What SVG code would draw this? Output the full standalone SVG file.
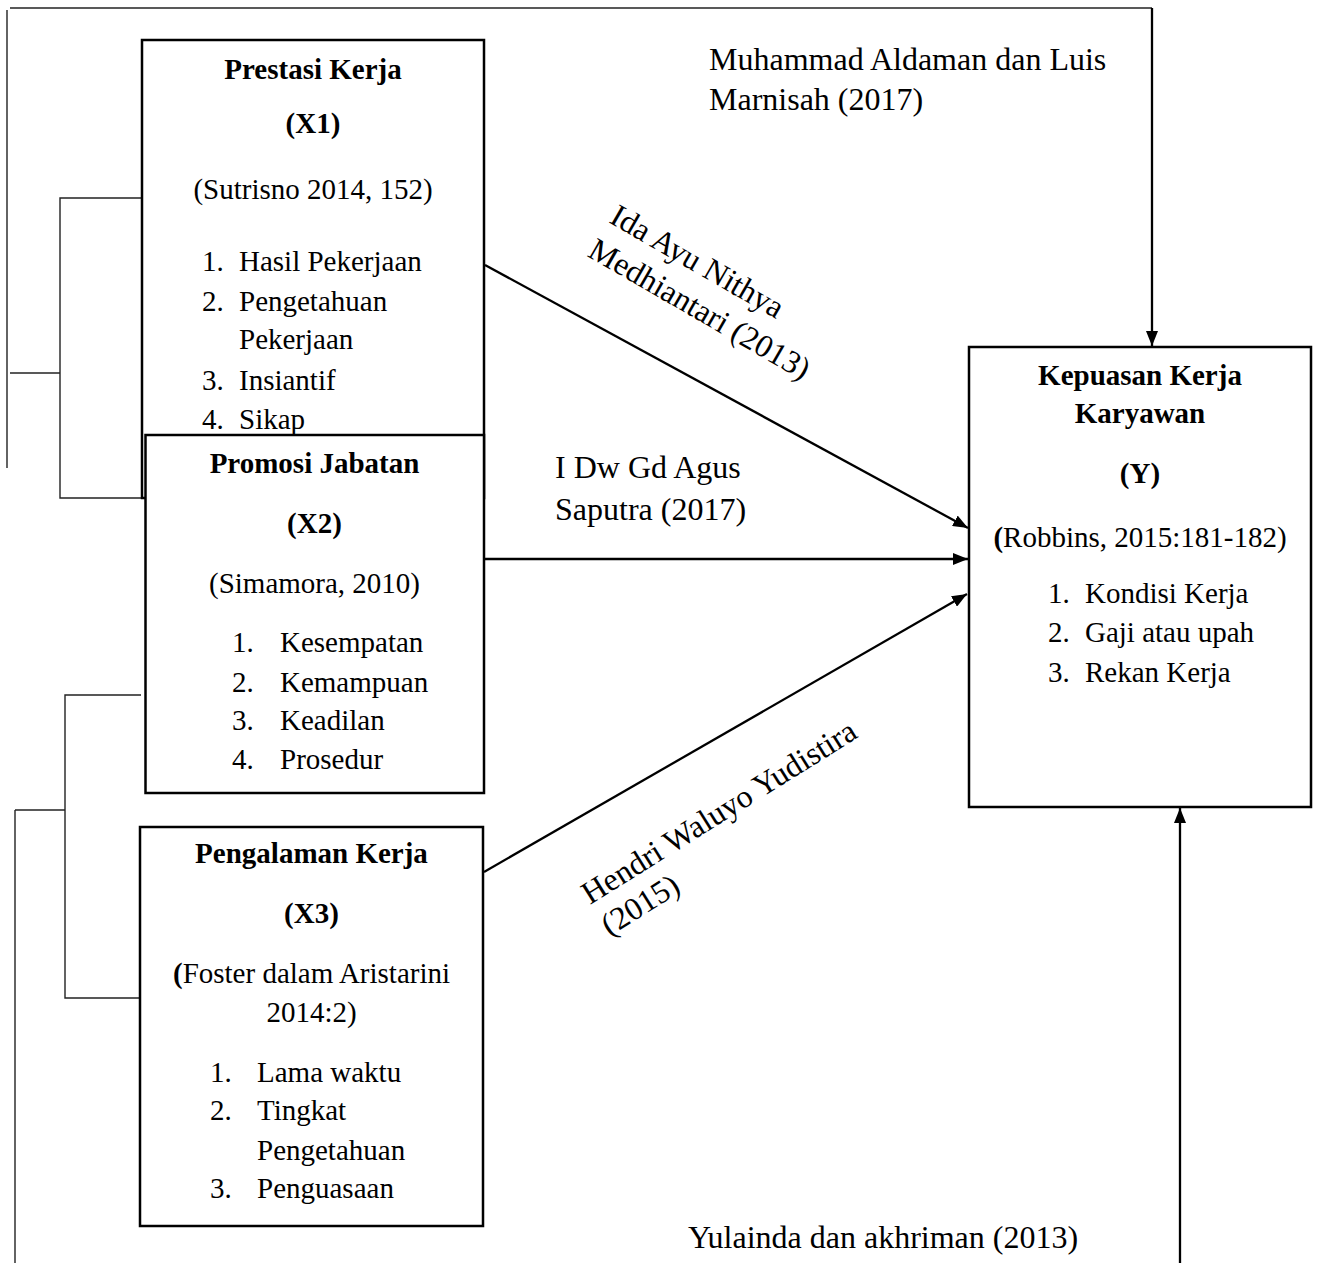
<svg xmlns="http://www.w3.org/2000/svg" width="1319" height="1263" viewBox="0 0 1319 1263">
<style>
text{font-family:"Liberation Serif","Times New Roman",serif;fill:#000}
.b{font-size:29px;font-weight:bold}
.t{font-size:29px}
.m{text-anchor:middle}
.l{font-size:32px}
.box{fill:#fff;stroke:#000;stroke-width:2.5}
.thin{fill:none;stroke:#222;stroke-width:1.4}
.arr{fill:none;stroke:#000;stroke-width:2.3;marker-end:url(#ah)}
</style>
<defs>
<marker id="ah" markerUnits="userSpaceOnUse" markerWidth="16" markerHeight="12" refX="15" refY="6" orient="auto">
<path d="M0,0 L15,6 L0,12 z" fill="#000"/>
</marker>
</defs>
<rect width="1319" height="1263" fill="#fff"/>
<g id="connectors">
<line class="thin" x1="10" y1="8" x2="1152" y2="8"/>
<line class="thin" x1="7" y1="10" x2="7" y2="468"/>
<line class="thin" x1="10" y1="373" x2="60" y2="373"/>
<polyline class="thin" points="142,198 60,198 60,498 142,498"/>
<polyline class="thin" points="141,695 65,695 65,998 139,998"/>
<line class="thin" x1="15" y1="810" x2="65" y2="810"/>
<line class="thin" x1="15" y1="810" x2="15" y2="1263"/>
<line class="arr" x1="485" y1="265" x2="968" y2="528"/>
<line class="arr" x1="485" y1="559" x2="968" y2="559"/>
<line class="arr" x1="484" y1="872" x2="967" y2="594"/>
<line class="arr" x1="1152" y1="8" x2="1152" y2="346"/>
<line class="arr" x1="1180" y1="1263" x2="1180" y2="808"/>
</g>
<g id="node-x1">
<rect class="box" x="142" y="40" width="342" height="458"/>
<text class="b m" x="313" y="79">Prestasi Kerja</text>
<text class="b m" x="313" y="133">(X1)</text>
<text class="t m" x="313" y="199">(Sutrisno 2014, 152)</text>
<text class="t" x="202" y="271">1.</text><text class="t" x="239" y="271">Hasil Pekerjaan</text>
<text class="t" x="202" y="311">2.</text><text class="t" x="239" y="311">Pengetahuan</text>
<text class="t" x="239" y="349">Pekerjaan</text>
<text class="t" x="202" y="390">3.</text><text class="t" x="239" y="390">Insiantif</text>
<text class="t" x="202" y="429">4.</text><text class="t" x="239" y="429">Sikap</text>
</g>
<g id="node-x2">
<rect class="box" x="145.5" y="435" width="338.5" height="358"/>
<text class="b m" x="314.5" y="473">Promosi Jabatan</text>
<text class="b m" x="314.5" y="533">(X2)</text>
<text class="t m" x="314.5" y="593">(Simamora, 2010)</text>
<text class="t" x="232" y="652">1.</text><text class="t" x="280" y="652">Kesempatan</text>
<text class="t" x="232" y="692">2.</text><text class="t" x="280" y="692">Kemampuan</text>
<text class="t" x="232" y="730">3.</text><text class="t" x="280" y="730">Keadilan</text>
<text class="t" x="232" y="769">4.</text><text class="t" x="280" y="769">Prosedur</text>
</g>
<g id="node-x3">
<rect class="box" x="140" y="827" width="343" height="399"/>
<text class="b m" x="311.5" y="863">Pengalaman Kerja</text>
<text class="b m" x="311.5" y="923">(X3)</text>
<text class="t m" x="311.5" y="983"><tspan font-weight="bold">(</tspan>Foster dalam Aristarini</text>
<text class="t m" x="311.5" y="1022">2014:2)</text>
<text class="t" x="210" y="1082">1.</text><text class="t" x="257" y="1082">Lama waktu</text>
<text class="t" x="210" y="1120">2.</text><text class="t" x="257" y="1120">Tingkat</text>
<text class="t" x="257" y="1160">Pengetahuan</text>
<text class="t" x="210" y="1198">3.</text><text class="t" x="257" y="1198">Penguasaan</text>
</g>
<g id="node-y">
<rect class="box" x="969" y="347" width="342" height="460"/>
<text class="b m" x="1140" y="385">Kepuasan Kerja</text>
<text class="b m" x="1140" y="423">Karyawan</text>
<text class="b m" x="1140" y="483">(Y)</text>
<text class="t m" x="1140" y="547"><tspan font-weight="bold">(</tspan>Robbins, 2015:181-182)</text>
<text class="t" x="1048" y="603">1.</text><text class="t" x="1085" y="603">Kondisi Kerja</text>
<text class="t" x="1048" y="642">2.</text><text class="t" x="1085" y="642">Gaji atau upah</text>
<text class="t" x="1048" y="682">3.</text><text class="t" x="1085" y="682">Rekan Kerja</text>
</g>
<g id="labels">
<text class="l" x="709" y="70">Muhammad Aldaman dan Luis</text>
<text class="l" x="709" y="110">Marnisah (2017)</text>
<g transform="translate(608,222) rotate(30)">
<text class="l" x="0" y="0">Ida Ayu Nithya</text>
<text class="l" x="-2" y="40">Medhiantari (2013)</text>
</g>
<text class="l" x="555" y="478">I Dw Gd Agus</text>
<text class="l" x="555" y="520">Saputra (2017)</text>
<g transform="translate(590,905) rotate(-32)">
<text class="l" x="0" y="0">Hendri Waluyo Yudistira</text>
<text class="l" x="0" y="37">(2015)</text>
</g>
<text class="l" x="688" y="1248">Yulainda dan akhriman (2013)</text>
</g>
</svg>
